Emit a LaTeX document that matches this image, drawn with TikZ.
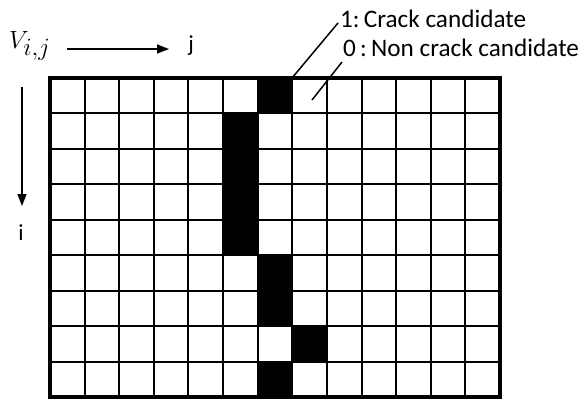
\documentclass[tikz,border=0pt]{standalone}
\usepackage{fontspec}
\setsansfont{Carlito}
\usetikzlibrary{arrows.meta,calc}
\begin{document}
\begin{tikzpicture}[x=1pt,y=-1pt,
  lbl/.style={font=\sffamily\fontsize{25.2}{27}\selectfont, inner sep=0pt, anchor=base west},
  axislbl/.style={font=\sffamily\fontsize{23}{25}\selectfont, inner sep=0pt, anchor=base},
  gridline/.style={line width=2pt},
  border/.style={line width=3.5pt},
  leader/.style={line width=1.5pt},
  axisarrow/.style={line width=1.5pt, -{Triangle[length=12pt,width=9pt]}},
  crackcell/.style={fill=black}]
\useasboundingbox (0,0) rectangle (583,400);
\def\cw{34.62}
\def\rh{35.44}
% crack cells
\foreach \c/\r in {6/0,5/1,5/2,5/3,5/4,6/5,6/6,7/7,6/8}
  \fill[crackcell] ({50+\c*\cw},{78+\r*\rh}) rectangle ++(\cw,\rh);
% grid
\foreach \c in {1,...,12}
  \draw[gridline] ({50+\c*\cw},78) -- ({50+\c*\cw},397);
\foreach \r in {1,...,8}
  \draw[gridline] (50,{78+\r*\rh}) -- (500,{78+\r*\rh});
\draw[border] (50,78) rectangle (500,397);
% title variable
\node[anchor=base west, inner sep=0pt, font=\fontsize{37}{40}\selectfont] (V) at (9,48) {$V_{i,j}$};
% axes
\coordinate (hs) at (67,49);
\coordinate (he) at (169,49);
\draw[axisarrow] (hs) -- (he);
\node[axislbl] (j) at (191,51) {j};
\coordinate (vs) at (22,87);
\coordinate (ve) at (22,206);
\draw[axisarrow] (vs) -- (ve);
\node[axislbl] (i) at (21,240) {i};
% legend
\node[lbl] (one) at (340,27) {1:\,Crack candidate};
\node[lbl] (zero) at (343,56) {0\,:\,Non crack candidate};
\coordinate (c1) at (292,78);
\coordinate (c0) at (312,100);
\draw[leader] (c1) -- ($(one.base west)+(-2,-4)$);
\draw[leader] (c0) -- ($(zero.base west)+(-1,6)$);
\end{tikzpicture}
\end{document}
